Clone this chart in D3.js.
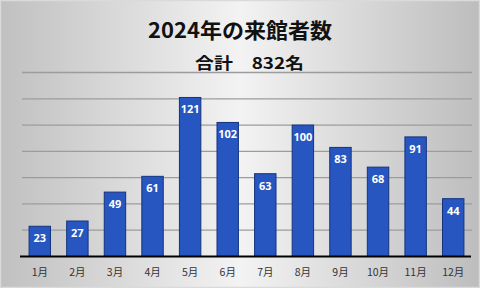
<!DOCTYPE html>
<html>
<head>
<meta charset="utf-8">
<script src="https://cdn.jsdelivr.net/npm/d3@7"></script>
<style>
  html, body { margin: 0; padding: 0; background: #fff; }
  svg { display: block; }
</style>
</head>
<body>
<svg id="chart" width="480" height="288"></svg>
<script>
const months = ['1月', '2月', '3月', '4月', '5月', '6月', '7月', '8月', '9月', '10月', '11月', '12月'];
const visitors = [23, 27, 49, 61, 121, 102, 63, 100, 83, 68, 91, 44];
const gridTicks = [20, 40, 60, 80, 100, 120, 140];
const title = '2024年の来館者数';
const subtitle = '合計　832名';

const svg = d3.select('#chart');
const W = 480, H = 288;

// background gradient
const defs = svg.append('defs');
const grad = defs.append('linearGradient').attr('id', 'bg').attr('x1', 0).attr('x2', 1).attr('y1', 0).attr('y2', 0);
grad.append('stop').attr('offset', '0%').attr('stop-color', '#c0c0c0');
grad.append('stop').attr('offset', '50%').attr('stop-color', '#f3f3f3');
grad.append('stop').attr('offset', '100%').attr('stop-color', '#bdbdbd');

svg.append('rect').attr('width', W).attr('height', H).attr('fill', 'url(#bg)');
svg.append('rect').attr('x', 0.5).attr('y', 0.5).attr('width', W - 1).attr('height', H - 1)
  .attr('fill', 'none').attr('stroke', '#dadada').attr('stroke-width', 1.5);

const x = d3.scaleBand().domain(months).range([21, 472]).paddingInner(0.43).paddingOuter(0.215);
const y = d3.scaleLinear().domain([0, 140]).range([256.5, 72.5]);

// grid
svg.append('g').selectAll('line')
  .data(gridTicks)
  .join('line')
  .attr('x1', 22).attr('x2', 472)
  .attr('y1', d => y(d)).attr('y2', d => y(d))
  .attr('stroke', '#9c9c9c').attr('stroke-width', 1.3);

// bars
svg.append('g').selectAll('rect')
  .data(visitors)
  .join('rect')
  .attr('x', (d, i) => x(months[i]))
  .attr('y', d => y(d))
  .attr('width', x.bandwidth())
  .attr('height', d => y(0) - y(d))
  .attr('fill', '#2756c0')
  .attr('stroke', '#14337f')
  .attr('stroke-width', 1);

// value labels
svg.append('g').selectAll('text')
  .data(visitors)
  .join('text')
  .attr('x', (d, i) => x(months[i]) + x.bandwidth() / 2)
  .attr('y', d => y(d) + 16)
  .attr('text-anchor', 'middle')
  .attr('fill', '#fff')
  .attr('font-family', '"Open Sans", "Noto Sans", sans-serif')
  .attr('font-weight', 'bold')
  .attr('font-size', 11)
  .text(d => d);

// baseline
svg.append('line')
  .attr('x1', 20).attr('x2', 471)
  .attr('y1', y(0)).attr('y2', y(0))
  .attr('stroke', '#000').attr('stroke-width', 2);

// x labels
const xAxis = svg.append('g')
  .attr('transform', `translate(0,${y(0)})`)
  .call(d3.axisBottom(x).tickSize(0).tickPadding(12));
xAxis.select('.domain').remove();
xAxis.selectAll('text')
  .attr('font-family', '"Noto Sans CJK JP", sans-serif')
  .attr('font-size', 10.5)
  .attr('fill', '#333');

// titles
svg.append('text')
  .attr('x', 240).attr('y', 38)
  .attr('text-anchor', 'middle')
  .attr('font-family', '"Noto Sans CJK JP", serif')
  .attr('font-weight', 'bold')
  .attr('font-size', 21)
  .attr('textLength', 184)
  .attr('lengthAdjust', 'spacingAndGlyphs')
  .attr('fill', '#111')
  .text(title);

svg.append('text')
  .attr('x', 249.5).attr('y', 69)
  .attr('text-anchor', 'middle')
  .attr('font-family', '"Noto Sans CJK JP", serif')
  .attr('font-weight', 'bold')
  .attr('font-size', 16)
  .attr('textLength', 109)
  .attr('lengthAdjust', 'spacingAndGlyphs')
  .attr('fill', '#111')
  .text(subtitle);
</script>
</body>
</html>
